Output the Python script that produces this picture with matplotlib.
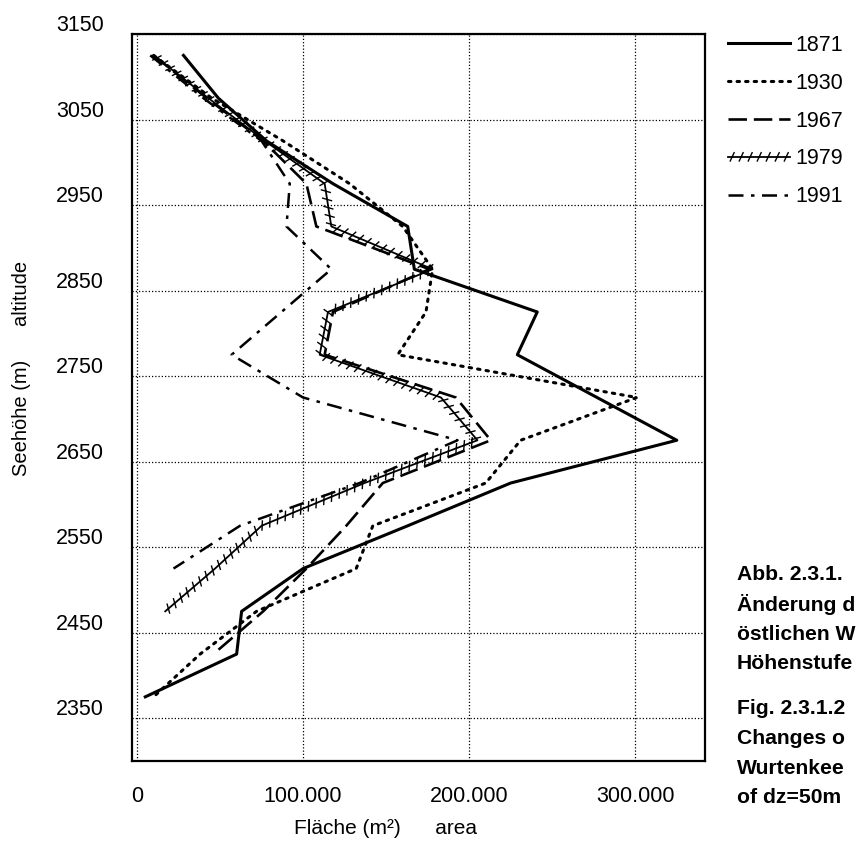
#!/usr/bin/env python3
"""
Area per altitude band of the eastern Wurtenkees, 1871-1991.
"""

import matplotlib
matplotlib.use("Agg")
import matplotlib.pyplot as plt
import matplotlib.patheffects as pe
from matplotlib.transforms import ScaledTranslation

# altitude band centres (dz = 50 m)
alt_1871 = [3125, 3075, 3025, 2975, 2925, 2875, 2825, 2775, 2725, 2675, 2625, 2575, 2525, 2475, 2425, 2375]
area_1871 = [28000, 49000, 78000, 118000, 163000, 167000, 241000, 229000, 277000, 325000,
             225000, 163000, 100000, 63000, 60000, 5000]

alt_1930 = [3125, 3075, 3025, 2975, 2925, 2875, 2825, 2775, 2725, 2675, 2625, 2575, 2525, 2475, 2425, 2375]
area_1930 = [10000, 45000, 88000, 128000, 160000, 178000, 174000, 157000, 301000, 231000,
             210000, 142000, 132000, 72000, 38000, 10000]

alt_1967 = [3125, 3075, 3025, 2975, 2925, 2875, 2825, 2775, 2725, 2675, 2625, 2575, 2525, 2475, 2425]
area_1967 = [10000, 42000, 76000, 102000, 108000, 176000, 118000, 113000, 192000, 213000,
             148000, 126000, 102000, 76000, 46000]

alt_1979 = [3125, 3075, 3025, 2975, 2925, 2875, 2825, 2775, 2725, 2675, 2625, 2575, 2525, 2475]
area_1979 = [10000, 43000, 77000, 113000, 117000, 178000, 115000, 110000, 183000, 205000,
             137000, 75000, 47000, 17000]

alt_1991 = [3125, 3075, 3025, 2975, 2925, 2875, 2825, 2775, 2725, 2675, 2625, 2575, 2525]
area_1991 = [8000, 40000, 75000, 92000, 90000, 117000, 87000, 57000, 100000, 193000,
             134000, 62000, 22000]

x_ticks = [0, 100000, 200000, 300000]
x_tick_labels = ["0", "100.000", "200.000", "300.000"]
y_ticks = [2350, 2450, 2550, 2650, 2750, 2850, 2950, 3050, 3150]

# caption is cut by the right page edge in the scan, keep what is visible
caption_de = ["Abb. 2.3.1.", "Änderung d", "östlichen W", "Höhenstufe"]
caption_en = ["Fig. 2.3.1.2", "Changes o", "Wurtenkee", "of dz=50m"]

plt.rcParams["font.family"] = ["Liberation Sans", "DejaVu Sans"]

fig = plt.figure(figsize=(8.59, 8.42), dpi=100)
ax = fig.add_axes([132 / 859, 1 - 761 / 842, (705 - 132) / 859, (761 - 34) / 842])

ax.plot(area_1871, alt_1871, color="black", lw=2.2, label="1871")
ax.plot(area_1930, alt_1930, color="black", lw=2.2, linestyle=(0, (0.8, 2.0)),
        dash_capstyle="round", label="1930")
ax.plot(area_1967, alt_1967, color="black", lw=1.9, linestyle=(0, (7, 2.6)), label="1967")
ticked = [
    pe.TickedStroke(spacing=6, angle=65, length=0.55, linewidth=1.0),
    pe.TickedStroke(spacing=6, angle=-115, length=0.55, linewidth=1.0),
    pe.Normal(),
]
ax.plot(area_1979, alt_1979, color="black", lw=1.3, path_effects=ticked, label="1979")
ax.plot(area_1991, alt_1991, color="black", lw=1.8, linestyle=(0, (6, 3, 1.4, 3)), label="1991")

ax.set_xlim(-3000, 342000)
ax.set_ylim(2300, 3150)
ax.set_xticks(x_ticks)
ax.set_xticklabels(x_tick_labels)
ax.set_yticks(y_ticks)
ax.tick_params(length=0, labelsize=15.5, pad=18)
ax.tick_params(axis="y", pad=20)
# y labels sit a little above their grid lines in the original
for lab in ax.get_yticklabels():
    lab.set_transform(lab.get_transform() + ScaledTranslation(0, 0.11, fig.dpi_scale_trans))

ax.grid(True, color="black", lw=0.9, linestyle=(0, (1, 1.6)))
for s in ax.spines.values():
    s.set_linewidth(1.6)

fig.text(385 / 859, 1 - 829 / 842, "Fläche (m²)      area", fontsize=15, ha="center", va="center")
fig.text(22 / 859, 1 - 368 / 842, "Seehöhe (m)      altitude", fontsize=14.5, rotation=90,
         ha="center", va="center")

fig.legend(loc="upper left", bbox_to_anchor=(728 / 859, 1 - 35 / 842), frameon=False,
           fontsize=15.5, handlelength=2.9, handletextpad=0.25, labelspacing=0.78,
           borderpad=0, borderaxespad=0)

y = 1 - 575 / 842
for line in caption_de:
    fig.text(737 / 859, y, line, fontsize=15.2, fontweight="bold", va="center")
    y -= 29.5 / 842
y = 1 - 709 / 842
for line in caption_en:
    fig.text(737 / 859, y, line, fontsize=15.2, fontweight="bold", va="center")
    y -= 29.5 / 842

fig.savefig("out.png", dpi=100)
